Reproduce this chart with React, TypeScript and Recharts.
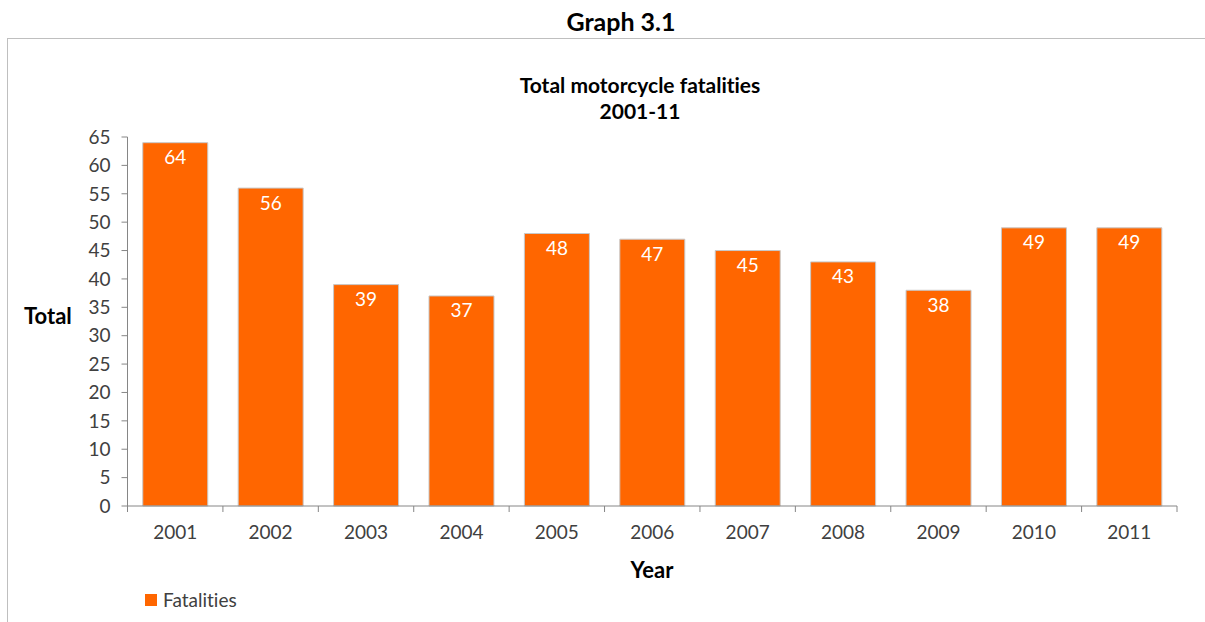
import React from 'react'
import { BarChart, Bar, XAxis, YAxis, LabelList } from 'recharts'

const years = ['2001', '2002', '2003', '2004', '2005', '2006', '2007', '2008', '2009', '2010', '2011']
const fatalities = [64, 56, 39, 37, 48, 47, 45, 43, 38, 49, 49]
const yTicks = [0, 5, 10, 15, 20, 25, 30, 35, 40, 45, 50, 55, 60, 65]

const data = years.map((year, i) => ({ year, fatalities: fatalities[i] }))

const FONT = 'Lato, "Open Sans", sans-serif'
const AXIS = '#868686'
const TEXT = '#404040'
const ORANGE = '#FF6600'

function YearTick(props: any) {
  const { x, y, payload, index } = props
  const half = payload?.offset ?? 47.7
  const last = index === years.length - 1
  return (
    <g>
      <line x1={x - half} y1={y - 8} x2={x - half} y2={y - 2} stroke={AXIS} />
      {last && <line x1={x + half} y1={y - 8} x2={x + half} y2={y - 2} stroke={AXIS} />}
      <text x={x} y={y + 25} textAnchor="middle" fontSize={19} fontFamily={FONT} fill={TEXT}>
        {payload.value}
      </text>
    </g>
  )
}

export default function App() {
  return (
    <div style={{ position: 'absolute', left: 0, top: 0, width: 1205, height: 622, background: '#fff', fontFamily: FONT, fontVariantLigatures: 'none', overflow: 'hidden' }}>
      <div style={{ position: 'absolute', left: 0, width: 1242, top: 5, textAlign: 'center', fontWeight: 700, fontSize: 25, lineHeight: '32px', color: '#000' }}>
        Graph 3.1
      </div>
      <div style={{ position: 'absolute', left: 7, top: 38, width: 1220, height: 620, border: '1px solid #bfbfbf' }} />
      <div style={{ position: 'absolute', left: 0, width: 1280, top: 72, textAlign: 'center', fontWeight: 700, fontSize: 21, lineHeight: '26px', color: '#000' }}>
        Total motorcycle fatalities
        <br />
        2001-11
      </div>
      <div style={{ position: 'absolute', left: 24, top: 302, fontWeight: 700, fontSize: 22, lineHeight: '28px', color: '#000' }}>Total</div>
      <div style={{ position: 'absolute', left: 0, width: 1304, top: 556, textAlign: 'center', fontWeight: 700, fontSize: 22, lineHeight: '28px', color: '#000' }}>Year</div>
      <div style={{ position: 'absolute', left: 145, top: 587, display: 'flex', alignItems: 'center', fontSize: 19, lineHeight: '26px', color: TEXT }}>
        <span style={{ display: 'inline-block', width: 12, height: 12, background: ORANGE, marginRight: 6 }} />
        Fatalities
      </div>
      <div style={{ position: 'absolute', left: 0, top: 0 }}>
        <BarChart
          width={1205}
          height={622}
          data={data}
          margin={{ top: 137, right: 28, bottom: 0, left: 0 }}
          barCategoryGap="16%"
        >
          <XAxis
            dataKey="year"
            height={116}
            axisLine={{ stroke: AXIS }}
            tickLine={false}
            tick={<YearTick />}
            interval={0}
          />
          <YAxis
            width={127.5}
            domain={[0, 65]}
            ticks={yTicks}
            interval={0}
            axisLine={{ stroke: AXIS }}
            tickLine={{ stroke: AXIS }}
            tickSize={6}
            tickMargin={11}
            tick={{ fontSize: 19, fontFamily: FONT, fill: TEXT }}
          />
          <Bar dataKey="fatalities" fill={ORANGE} stroke="#c8c8c8" strokeWidth={1} isAnimationActive={false}>
            <LabelList dataKey="fatalities" position="insideTop" offset={8} fill="#fff" fontSize={19} fontFamily={FONT} />
          </Bar>
        </BarChart>
      </div>
    </div>
  )
}
